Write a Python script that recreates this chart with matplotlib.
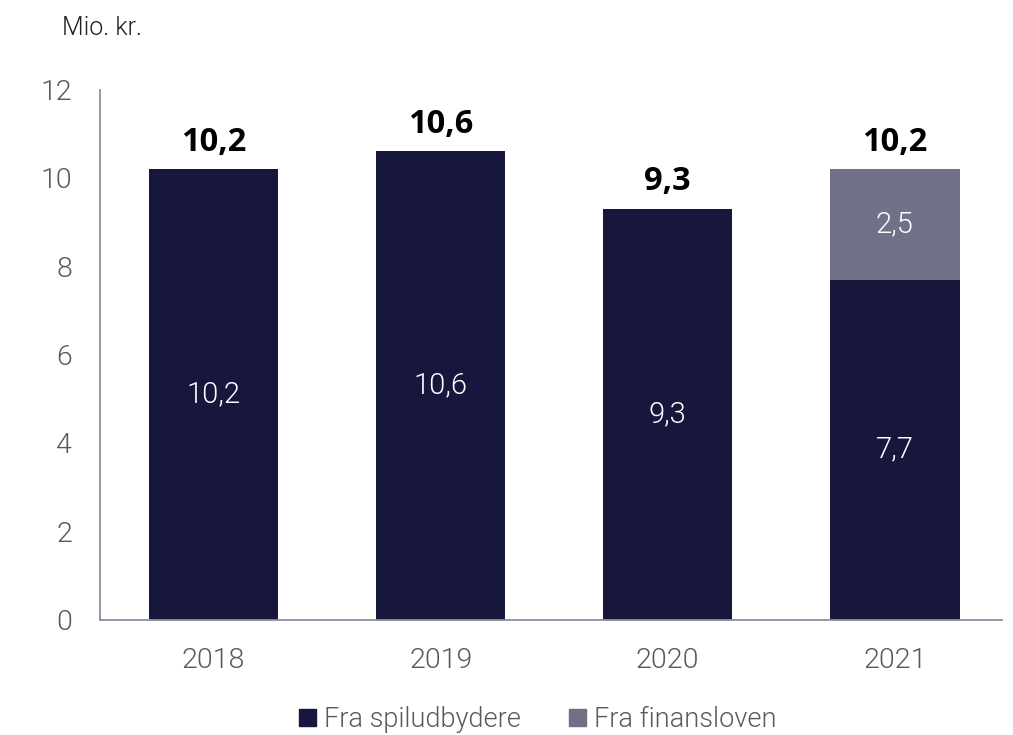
import matplotlib
matplotlib.use("Agg")
import matplotlib.pyplot as plt
from matplotlib.patches import Patch

years = ["2018", "2019", "2020", "2021"]
spil = [10.2, 10.6, 9.3, 7.7]
finans = [0.0, 0.0, 0.0, 2.5]
totals = [10.2, 10.6, 9.3, 10.2]
yticks = [0, 2, 4, 6, 8, 10, 12]

c_spil = "#17163D"
c_fin = "#707086"
c_axis = "#8E8EA3"
c_text = "#595959"

plt.rcParams["font.family"] = ["Roboto", "DejaVu Sans"]
LW = 300

fig = plt.figure(figsize=(10.13, 7.35), dpi=100)
ax = fig.add_axes([0.0987, 0.157, 0.89, 0.721])

x = list(range(len(years)))
w = 0.57
ax.bar(x, spil, width=w, color=c_spil, zorder=2)
ax.bar(x, finans, width=w, bottom=spil, color=c_fin, zorder=2)

for i in x:
    ax.text(i, spil[i] / 2, f"{spil[i]:.1f}".replace(".", ","), ha="center", va="center",
            color="white", fontsize=21, fontweight=LW)
    if finans[i] > 0:
        ax.text(i, spil[i] + finans[i] / 2, f"{finans[i]:.1f}".replace(".", ","), ha="center",
                va="center", color="white", fontsize=21, fontweight=LW)
    ax.text(i, totals[i] + 0.24, f"{totals[i]:.1f}".replace(".", ","), ha="center", va="bottom",
            color="black", fontsize=23.5, fontweight="bold", family=["Open Sans", "DejaVu Sans"])

ax.set_xlim(-0.5, 3.47)
ax.set_ylim(0, 12)
ax.set_yticks(yticks)
ax.set_yticklabels([str(t) for t in yticks])
ax.set_xticks(x)
ax.set_xticklabels(years)
for s in ["top", "right"]:
    ax.spines[s].set_visible(False)
for s in ["left", "bottom"]:
    ax.spines[s].set_color(c_axis)
    ax.spines[s].set_linewidth(1.3)
ax.tick_params(axis="both", length=0, labelsize=20.5, colors=c_text, labelcolor=c_text)
ax.tick_params(axis="y", pad=20)
ax.tick_params(axis="x", pad=20)
for lab in ax.get_xticklabels() + ax.get_yticklabels():
    lab.set_fontweight(LW)

fig.text(0.061, 0.962, "Mio. kr.", fontsize=18, color="#222222", fontweight=LW, va="center")

handles = [Patch(color=c_spil, label="Fra spiludbydere"), Patch(color=c_fin, label="Fra finansloven")]
leg = fig.legend(handles=handles, loc="center", bbox_to_anchor=(0.531, 0.021), ncol=2, frameon=False,
                 fontsize=19.5, handlelength=0.6, handleheight=0.6, handletextpad=0.3, columnspacing=1.8)
for t in leg.get_texts():
    t.set_color(c_text)
    t.set_fontweight(LW)

fig.savefig("out.png", dpi=100)
